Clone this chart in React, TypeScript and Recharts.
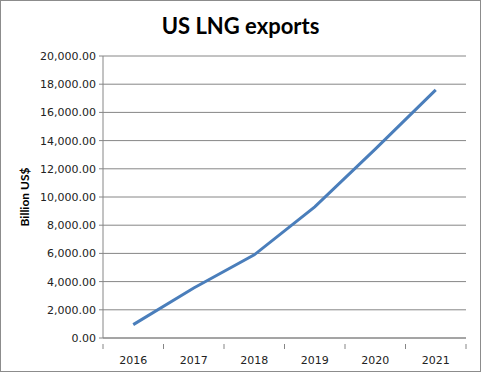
import { LineChart, Line, XAxis, YAxis, CartesianGrid } from "recharts";

const years = ["2016", "2017", "2018", "2019", "2020", "2021"];
const exportsBn = [950, 3550, 5900, 9300, 13400, 17600];
const yTicks = [0, 2000, 4000, 6000, 8000, 10000, 12000, 14000, 16000, 18000, 20000];

const data = years.map((year, i) => ({ year, value: exportsBn[i] }));

const fmt = (v: number) =>
  v.toLocaleString("en-US", { minimumFractionDigits: 2, maximumFractionDigits: 2 });

const gray = "#868686";

// Excel-style category axis: tick marks sit between categories
function YearTick(props: any) {
  const { x, y, payload, index, visibleTicksCount } = props;
  const half = payload?.offset ?? 0;
  const top = y - 8;
  return (
    <g>
      <line x1={x - half} x2={x - half} y1={top} y2={top + 5} stroke={gray} />
      {index === visibleTicksCount - 1 && (
        <line x1={x + half} x2={x + half} y1={top} y2={top + 5} stroke={gray} />
      )}
      <text
        x={x}
        y={y}
        dy={12}
        textAnchor="middle"
        fill="#222"
        fontSize={11}
        fontFamily="DejaVu Sans, sans-serif"
      >
        {payload.value}
      </text>
    </g>
  );
}

export default function App() {
  return (
    <div
      style={{
        position: "absolute",
        left: 0,
        top: 0,
        width: 481,
        height: 372,
        boxSizing: "border-box",
        border: "1px solid #8c8c8c",
        background: "#fff",
      }}
    >
      <div
        style={{
          position: "absolute",
          top: 11,
          left: 0,
          width: 479,
          textAlign: "center",
          fontFamily: "Lato, sans-serif",
          fontWeight: 700,
          fontSize: 22,
          color: "#000",
        }}
      >
        US LNG exports
      </div>
      <LineChart
        width={479}
        height={370}
        data={data}
        margin={{ top: 55, right: 14, bottom: 0, left: 0 }}
        style={{ position: "absolute", left: 0, top: 0 }}
      >
        <CartesianGrid vertical={false} stroke={gray} strokeDasharray="" />
        <XAxis
          dataKey="year"
          scale="band"
          stroke={gray}
          tickLine={false}
          height={33}
          tickMargin={8}
          tick={<YearTick />}
        />
        <YAxis
          width={102}
          domain={[0, 20000]}
          ticks={yTicks}
          tickFormatter={fmt}
          stroke={gray}
          tickSize={4}
          tickMargin={3}
          tick={{ fill: "#222", fontSize: 11, fontFamily: "DejaVu Sans, sans-serif" }}
          label={{
            value: "Billion US$",
            angle: -90,
            position: "insideLeft",
            offset: 24,
            style: {
              fontFamily: "Lato, sans-serif",
              fontWeight: 700,
              fontSize: 12,
              fill: "#000",
              textAnchor: "middle",
            },
          }}
        />
        <Line
          dataKey="value"
          stroke="#4a7ebb"
          strokeWidth={3}
          dot={false}
          isAnimationActive={false}
        />
      </LineChart>
    </div>
  );
}
